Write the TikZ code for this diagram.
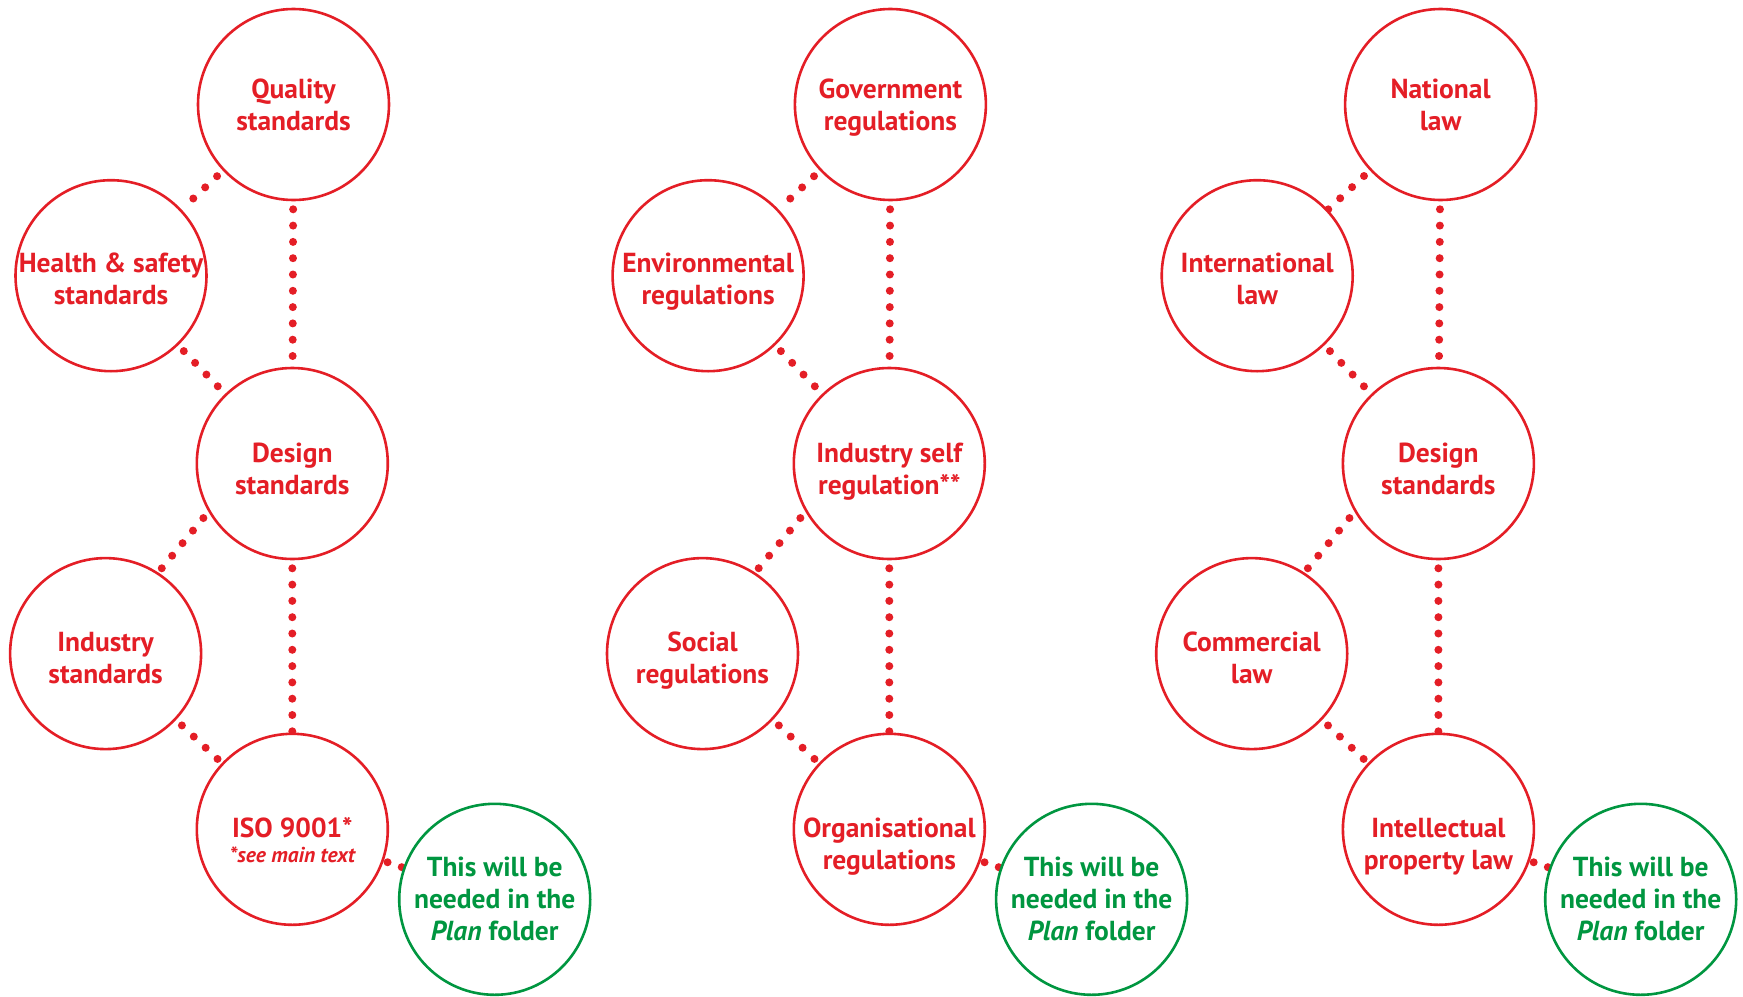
\documentclass[tikz,border=0pt]{standalone}
\usepackage{fontspec}
\setmainfont{PT Sans}
\usetikzlibrary{backgrounds}
\definecolor{cred}{RGB}{228,30,38}
\definecolor{cgreen}{RGB}{0,150,64}
\newcommand\toprl{\rule{0pt}{26pt}}
\newcommand\botrl{\rule[-8pt]{0pt}{8pt}}
\begin{document}
\begin{tikzpicture}[x=1pt,y=-1pt,
  circ/.style={circle, draw=cred, line width=2.6pt, fill=white, minimum size=191pt, inner sep=0pt},
  gcirc/.style={circ, draw=cgreen},
  txt/.style={text=cred, inner sep=0pt, align=center, font=\bfseries\fontsize{27.5}{32}\selectfont},
  gtxt/.style={txt, text=cgreen},
  lbl/.style={text=cred, inner sep=0pt, font=\bfseries\fontsize{27.5}{32}\selectfont},
  sublbl/.style={text=cred, inner sep=0pt, font=\bfseries\itshape\fontsize{21.5}{24}\selectfont},
  dots/.style={draw=cred, line width=8pt, line cap=round, dash pattern=on 0pt off 16.3pt, dash phase=8.3pt},
  sdots/.style={draw=cred, line width=8pt, line cap=round, dash pattern=on 0pt off 15pt, dash phase=11pt},
]
\useasboundingbox (0,0) rectangle (1743,996);
% circles
\node[circ] (q) at (293.5,104.5) {};
\node[circ] (hs) at (111,275.7) {};
\node[circ] (d1) at (292.3,463.5) {};
\node[circ] (is) at (105.6,653.6) {};
\node[circ] (iso) at (292.3,829.3) {};
\node[gcirc] (g1) at (494.7,899.3) {};
\node[circ] (gov) at (890.4,104.5) {};
\node[circ] (env) at (708.1,275.7) {};
\node[circ] (isr) at (889.3,463.5) {};
\node[circ] (soc) at (702.5,653.6) {};
\node[circ] (org) at (889.3,829.3) {};
\node[gcirc] (g2) at (1091.6,899.3) {};
\node[circ] (nat) at (1440.6,104.5) {};
\node[circ] (intl) at (1257.2,275.7) {};
\node[circ] (d3) at (1438.4,463.5) {};
\node[circ] (com) at (1251.7,653.6) {};
\node[circ] (ip) at (1438.4,829.3) {};
\node[gcirc] (g3) at (1640.7,899.3) {};
% texts
\node[txt, yshift=-1pt] (qt) at (q) {\toprl Quality\\standards\botrl};
\node[txt, yshift=-3.3pt] (hst) at (hs) {\toprl Health \& safety\\standards\botrl};
\node[txt, yshift=-5.5pt] (d1t) at (d1) {\toprl Design\\standards\botrl};
\node[txt, yshift=-4.5pt] (ist) at (is) {\toprl Industry\\standards\botrl};
\node[lbl] (isoa) at (292.3,828) {ISO 9001*};
\node[sublbl] (isob) at (292.3,855) {*see main text};
\node[gtxt] (g1t) at (g1) {\toprl This will be\\needed in the\\\textit{Plan} folder\botrl};
\node[txt, yshift=-1pt] (govt) at (gov) {\toprl Government\\regulations\botrl};
\node[txt, yshift=-3.3pt] (envt) at (env) {\toprl Environmental\\regulations\botrl};
\node[txt, yshift=-5.5pt] (isrt) at (isr) {\toprl Industry self\\regulation**\botrl};
\node[txt, yshift=-4.5pt] (soct) at (soc) {\toprl Social\\regulations\botrl};
\node[txt, yshift=-15.5pt] (orgt) at (org) {\toprl Organisational\\regulations\botrl};
\node[gtxt] (g2t) at (g2) {\toprl This will be\\needed in the\\\textit{Plan} folder\botrl};
\node[txt, yshift=-1pt] (natt) at (nat) {\toprl National\\law\botrl};
\node[txt, yshift=-3.3pt] (intlt) at (intl) {\toprl International\\law\botrl};
\node[txt, yshift=-5.5pt] (d3t) at (d3) {\toprl Design\\standards\botrl};
\node[txt, yshift=-4.5pt] (comt) at (com) {\toprl Commercial\\law\botrl};
\node[txt, yshift=-15.5pt] (ipt) at (ip) {\toprl Intellectual\\property law\botrl};
\node[gtxt] (g3t) at (g3) {\toprl This will be\\needed in the\\\textit{Plan} folder\botrl};
\begin{pgfonlayer}{background}
\draw[dots] (q) -- (hs);
\draw[dots] (q) -- (d1);
\draw[dots] (hs) -- (d1);
\draw[dots] (d1.210) -- (is.57);
\draw[dots] (d1) -- (iso);
\draw[dots] (is) -- (iso);
\draw[sdots] (iso) -- (g1);
\draw[dots] (gov) -- (env);
\draw[dots] (gov) -- (isr);
\draw[dots] (env) -- (isr);
\draw[dots] (isr.210) -- (soc.57);
\draw[dots] (isr) -- (org);
\draw[dots] (soc) -- (org);
\draw[sdots] (org) -- (g2);
\draw[dots] (nat) -- (intl);
\draw[dots] (nat) -- (d3);
\draw[dots] (intl) -- (d3);
\draw[dots] (d3.210) -- (com.57);
\draw[dots] (d3) -- (ip);
\draw[dots] (com) -- (ip);
\draw[sdots] (ip) -- (g3);
\end{pgfonlayer}
\end{tikzpicture}
\end{document}
